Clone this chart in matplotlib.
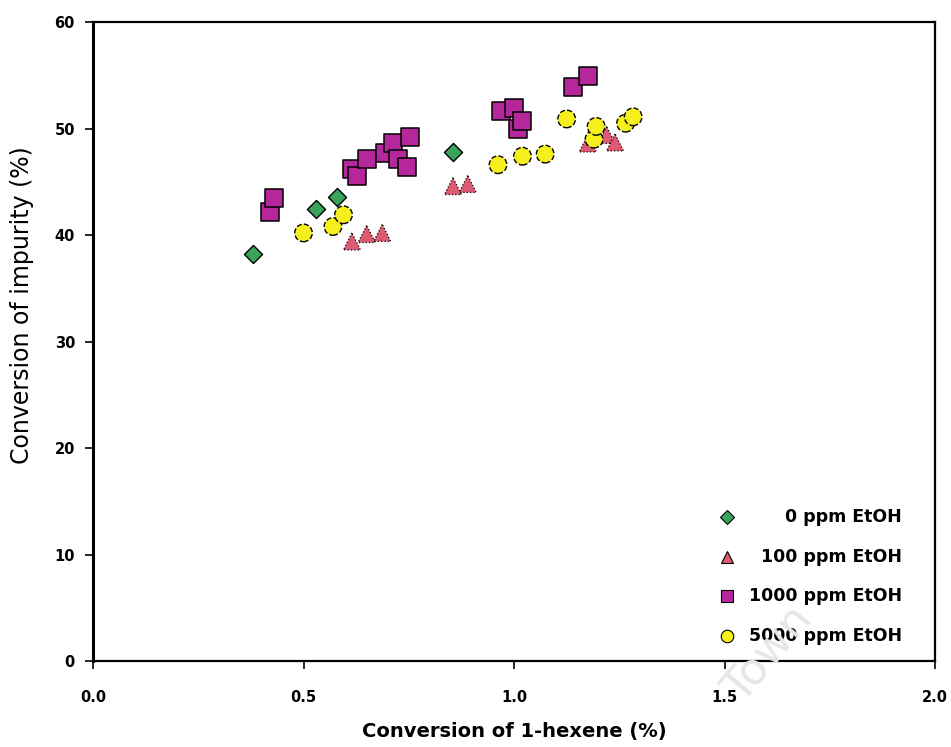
import matplotlib
matplotlib.use("Agg")
import matplotlib.pyplot as plt

plt.rcParams['font.family'] = ['DejaVu Sans']

# 1-hexene conversion (%) vs impurity conversion (%) for each EtOH level
hex_0 = [0.38, 0.53, 0.58, 0.855]
imp_0 = [38.2, 42.4, 43.6, 47.8]

hex_100 = [0.615, 0.65, 0.687, 0.855, 0.89, 1.175, 1.22, 1.24]
imp_100 = [39.4, 40.1, 40.2, 44.6, 44.8, 48.6, 49.4, 48.7]

hex_1000 = [0.42, 0.43, 0.615, 0.627, 0.65, 0.693, 0.713, 0.725, 0.745, 0.753,
            0.97, 1.0, 1.01, 1.02, 1.14, 1.175]
imp_1000 = [42.2, 43.5, 46.2, 45.5, 47.1, 47.7, 48.6, 47.1, 46.4, 49.2,
            51.6, 51.9, 50.0, 50.7, 53.9, 54.9]

hex_5000 = [0.50, 0.57, 0.595, 0.962, 1.02, 1.074, 1.125, 1.19, 1.195, 1.265, 1.283]
imp_5000 = [40.2, 40.8, 41.9, 46.6, 47.4, 47.6, 50.9, 49.0, 50.2, 50.5, 51.1]

labels = ['0 ppm EtOH', '100 ppm EtOH', '1000 ppm EtOH', '5000 ppm EtOH']
colors = ['#3aa35c', '#de5a72', '#b5279b', '#f5ef1e']
markers = ['D', '^', 's', 'o']

fig = plt.figure(figsize=(9.51, 7.47), dpi=100)
ax = fig.add_axes([0.0978, 0.1151, 0.8854, 0.8554])

ax.scatter(hex_0, imp_0, marker='D', s=85, c=colors[0], edgecolors='black', linewidths=1.0, zorder=3)
ax.scatter(hex_100, imp_100, marker='^', s=150, c=colors[1], edgecolors='black', linewidths=0.9,
           linestyle=':', zorder=3)
ax.scatter(hex_1000, imp_1000, marker='s', s=150, c=colors[2], edgecolors='black', linewidths=1.1, zorder=4)
ax.scatter(hex_5000, imp_5000, marker='o', s=160, c=colors[3], edgecolors='black', linewidths=1.0,
           linestyle='--', zorder=5)

ax.set_xlim(0, 2.0)
ax.set_ylim(0, 60)
ax.set_xticks([0.0, 0.5, 1.0, 1.5, 2.0])
ax.set_xticklabels(['0.0', '0.5', '1.0', '1.5', '2.0'])
ax.set_yticks(range(0, 61, 10))
ax.tick_params(direction='out', length=6, width=1.2, labelsize=10.5)
ax.tick_params(axis='x', pad=15)
ax.tick_params(axis='y', pad=7)
for t in ax.get_xticklabels() + ax.get_yticklabels():
    t.set_fontweight('bold')
for sp in ax.spines.values():
    sp.set_linewidth(1.6)
ax.spines['left'].set_linewidth(2.2)

ax.set_xlabel('Conversion of 1-hexene (%)', fontsize=14, fontweight='bold')
ax.xaxis.set_label_coords(0.5, -0.095)
ax.set_ylabel('Conversion of impurity (%)', fontsize=17)
ax.yaxis.set_label_coords(-0.07, 0.557)

# legend drawn by hand so the labels line up on the right
rows = [0.225, 0.163, 0.102, 0.039]
key_sizes = [7, 8, 8.5, 9]
for lab, col, mk, yy, ms in zip(labels, colors, markers, rows, key_sizes):
    ax.plot([0.753], [yy], marker=mk, ms=ms, color=col, mec='black', mew=0.8,
            transform=ax.transAxes, clip_on=False, zorder=6)
    ax.text(0.961, yy, lab, transform=ax.transAxes, ha='right', va='center',
            fontsize=12.5, fontweight='bold', zorder=5)

fig.text(0.808, 0.125, 'Town', rotation=50, fontsize=32, color='#e6e6e6',
         ha='center', va='center', zorder=0)

fig.savefig('out.png', dpi=100, facecolor='white')
